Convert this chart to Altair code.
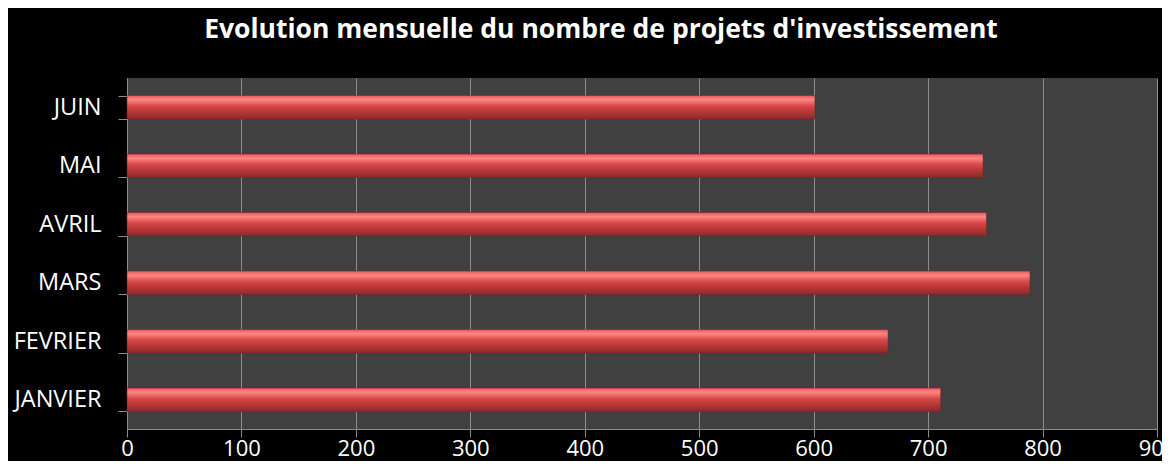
import altair as alt
import pandas as pd

months = ["JUIN", "MAI", "AVRIL", "MARS", "FEVRIER", "JANVIER"]
values = [601, 748, 751, 789, 665, 711]
x_ticks = [0, 100, 200, 300, 400, 500, 600, 700, 800, 900]

df = pd.DataFrame({"mois": months, "projets": values})

FONT = "Open Sans"

bar_fill = alt.Gradient(
    gradient="linear",
    stops=[
        alt.GradientStop(color="#e85a5a", offset=0),
        alt.GradientStop(color="#ff8585", offset=0.18),
        alt.GradientStop(color="#d84848", offset=0.45),
        alt.GradientStop(color="#b83636", offset=0.7),
        alt.GradientStop(color="#8e2a2a", offset=1),
    ],
    x1=0, x2=0, y1=0, y2=1,
)

chart = (
    alt.Chart(df)
    .mark_bar(fill=bar_fill, stroke="#7a2020", strokeWidth=0.5)
    .encode(
        y=alt.Y(
            "mois:N",
            sort=months,
            scale=alt.Scale(paddingInner=0.6, paddingOuter=0.3),
            axis=alt.Axis(
                title=None,
                tickBand="extent",
                tickSize=9,
                tickColor="#8c8c8c",
                domainColor="#8c8c8c",
                labelColor="white",
                labelFont=FONT,
                labelFontSize=23.5,
                labelPadding=17,
                grid=False,
            ),
        ),
        x=alt.X(
            "projets:Q",
            scale=alt.Scale(domain=[0, 900], nice=False),
            axis=alt.Axis(
                title=None,
                values=x_ticks,
                tickSize=8,
                tickColor="#8c8c8c",
                domainColor="#8c8c8c",
                gridColor="#8c8c8c",
                gridWidth=1,
                labelColor="white",
                labelFont=FONT,
                labelFontSize=22,
                labelPadding=1,
                labelFlush=False,
                labelOverlap=False,
            ),
        ),
    )
    .properties(
        width=1030,
        height=351,
        background="black",
        padding={"left": 119, "top": 70, "right": 5, "bottom": 32},
        autosize=alt.AutoSizeParams(type="none"),
        title=alt.TitleParams(
            "Evolution mensuelle du nombre de projets d'investissement",
            color="white",
            font=FONT,
            fontSize=26.5,
            fontWeight="bold",
            anchor="middle",
            dx=-41,
            offset=23,
        ),
    )
    .configure_view(fill="#404040", stroke=None)
)

chart.save("out.html", embed_options={"renderer": "svg", "actions": False})
